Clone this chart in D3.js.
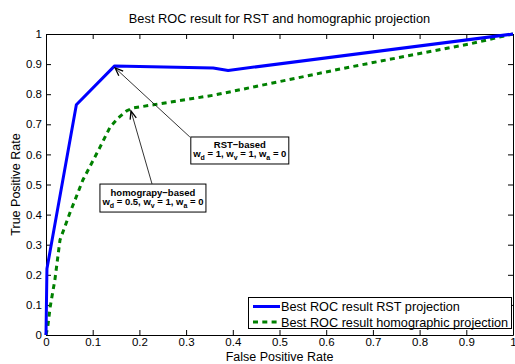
<!DOCTYPE html>
<html>
<head>
<meta charset="utf-8">
<title>Best ROC result</title>
<script src="https://cdn.jsdelivr.net/npm/d3@7"></script>
<style>
    body { margin: 0; background: #fff; }
    svg { display: block; font-family: "Liberation Sans", Arial, sans-serif; }
    .axis path, .axis line { stroke: #000; }
    .axis text { font-size: 11.5px; fill: #000; }
    .note text { font-size: 9.5px; font-weight: bold; }
</style>
</head>
<body>
<div id="chart"></div>
<script>
// ROC curves
var fprRST = [0, 0.002, 0.065, 0.147, 0.358, 0.39, 1];
var tprRST = [0, 0.22, 0.765, 0.894, 0.887, 0.879, 1];

var fprHomo = [0, 0.004, 0.009, 0.019, 0.03, 0.051, 0.079, 0.116, 0.137, 0.154, 0.173, 0.186, 0.36, 0.65, 0.91, 1];
var tprHomo = [0, 0.03, 0.094, 0.183, 0.316, 0.405, 0.515, 0.625, 0.69, 0.72, 0.745, 0.754, 0.797, 0.89, 0.968, 1];

var tickVals = [0, 0.1, 0.2, 0.3, 0.4, 0.5, 0.6, 0.7, 0.8, 0.9, 1];
var tickLabels = ['0', '0.1', '0.2', '0.3', '0.4', '0.5', '0.6', '0.7', '0.8', '0.9', '1'];

var seriesNames = ['Best ROC result RST projection', 'Best ROC result homographic projection'];
var seriesColors = ['#0000ff', '#008000'];

var width = 515, height = 364;
var margin = {top: 34, right: 2, bottom: 29, left: 46};

var svg = d3.select('#chart').append('svg')
    .attr('width', width)
    .attr('height', height);

var x = d3.scaleLinear().domain([0, 1]).range([margin.left, width - margin.right]);
var y = d3.scaleLinear().domain([0, 1]).range([height - margin.bottom, margin.top]);

// axes, ticks pointing inwards on all four sides
function fmt(d, i) { return tickLabels[i]; }

svg.append('g').attr('class', 'axis')
    .attr('transform', 'translate(0,' + y(0) + ')')
    .call(d3.axisBottom(x).tickValues(tickVals).tickFormat(fmt).tickSizeInner(-5).tickSizeOuter(0).tickPadding(3));
svg.append('g').attr('class', 'axis')
    .attr('transform', 'translate(0,' + y(1) + ')')
    .call(d3.axisTop(x).tickValues(tickVals).tickFormat('').tickSizeInner(-5).tickSizeOuter(0));
svg.append('g').attr('class', 'axis')
    .attr('transform', 'translate(' + x(0) + ',0)')
    .call(d3.axisLeft(y).tickValues(tickVals).tickFormat(fmt).tickSizeInner(-5).tickSizeOuter(0).tickPadding(4));
svg.append('g').attr('class', 'axis')
    .attr('transform', 'translate(' + x(1) + ',0)')
    .call(d3.axisRight(y).tickValues(tickVals).tickFormat('').tickSizeInner(-5).tickSizeOuter(0));

// curves
var line = d3.line()
    .x(function(d) { return x(d[0]); })
    .y(function(d) { return y(d[1]); });

var rst = d3.zip(fprRST, tprRST);
var homo = d3.zip(fprHomo, tprHomo);

svg.append('path')
    .datum(homo)
    .attr('d', line)
    .attr('fill', 'none')
    .attr('stroke', seriesColors[1])
    .attr('stroke-width', 3)
    .attr('stroke-dasharray', '5,4.3');

svg.append('path')
    .datum(rst)
    .attr('d', line)
    .attr('fill', 'none')
    .attr('stroke', seriesColors[0])
    .attr('stroke-width', 3)
    .attr('stroke-linejoin', 'round');

// title and axis labels
svg.append('text')
    .attr('x', (x(0) + x(1)) / 2)
    .attr('y', 23)
    .attr('text-anchor', 'middle')
    .style('font-size', '12.8px')
    .text('Best ROC result for RST and homographic projection');

svg.append('text')
    .attr('x', (x(0) + x(1)) / 2)
    .attr('y', 361)
    .attr('text-anchor', 'middle')
    .style('font-size', '12.5px')
    .text('False Positive Rate');

svg.append('text')
    .attr('transform', 'translate(20,' + (y(0) + y(1)) / 2 + ') rotate(-90)')
    .attr('text-anchor', 'middle')
    .style('font-size', '12.5px')
    .text('True Positive Rate');

// annotations
var defs = svg.append('defs');
defs.append('marker')
    .attr('id', 'arrow')
    .attr('viewBox', '-10 -5 12 10')
    .attr('refX', 0).attr('refY', 0)
    .attr('markerWidth', 12).attr('markerHeight', 10)
    .attr('markerUnits', 'userSpaceOnUse')
    .attr('orient', 'auto')
    .append('path')
    .attr('d', 'M-8,-3.2 L0,0 L-8,3.2')
    .attr('fill', 'none')
    .attr('stroke', '#000')
    .attr('stroke-width', 1.3);

var notes = [
    {title: 'RST\u2212based', w: ['1', '1', '0'], tip: [0.148, 0.887], tail: [0.308, 0.658], box: [0.415, 0.613], bw: 98, bh: 27},
    {title: 'homograpy\u2212based', w: ['0.5', '1', '0'], tip: [0.182, 0.744], tail: [0.227, 0.502], box: [0.229, 0.455], bw: 106, bh: 28}
];

notes.forEach(function(n) {
    var g = svg.append('g').attr('class', 'note');
    g.append('line')
        .attr('x1', x(n.tail[0])).attr('y1', y(n.tail[1]))
        .attr('x2', x(n.tip[0])).attr('y2', y(n.tip[1]))
        .attr('stroke', '#000')
        .attr('stroke-width', 0.8)
        .attr('marker-end', 'url(#arrow)');

    var cx = x(n.box[0]), cy = y(n.box[1]);
    g.append('rect')
        .attr('x', cx - n.bw / 2).attr('y', cy - n.bh / 2)
        .attr('width', n.bw).attr('height', n.bh)
        .attr('fill', '#fff')
        .attr('stroke', '#000')
        .attr('stroke-width', 1);

    g.append('text')
        .attr('x', cx).attr('y', cy - 2.5)
        .attr('text-anchor', 'middle')
        .text(n.title);

    var t = g.append('text')
        .attr('x', cx).attr('y', cy + 6.5)
        .attr('text-anchor', 'middle');
    var subs = ['d', 'v', 'a'];
    subs.forEach(function(s, i) {
        t.append('tspan').text('w');
        t.append('tspan').attr('dy', 3).style('font-size', '7px').text(s);
        t.append('tspan').attr('dy', -3).text(' = ' + n.w[i] + (i < 2 ? ', ' : ''));
    });
});

// legend
var lg = svg.append('g').attr('class', 'legend');
lg.append('rect')
    .attr('x', 248.5).attr('y', 297.5)
    .attr('width', 263).attr('height', 31)
    .attr('fill', '#fff')
    .attr('stroke', '#000');

seriesNames.forEach(function(name, i) {
    var ly = 306.5 + i * 15.5;
    lg.append('line')
        .attr('x1', 253).attr('x2', 280)
        .attr('y1', ly).attr('y2', ly)
        .attr('stroke', seriesColors[i])
        .attr('stroke-width', 3)
        .attr('stroke-dasharray', i === 1 ? '5,4.3' : null);
    lg.append('text')
        .attr('x', 281).attr('y', ly + 4.5)
        .style('font-size', '12.7px')
        .text(name);
});
</script>
</body>
</html>
